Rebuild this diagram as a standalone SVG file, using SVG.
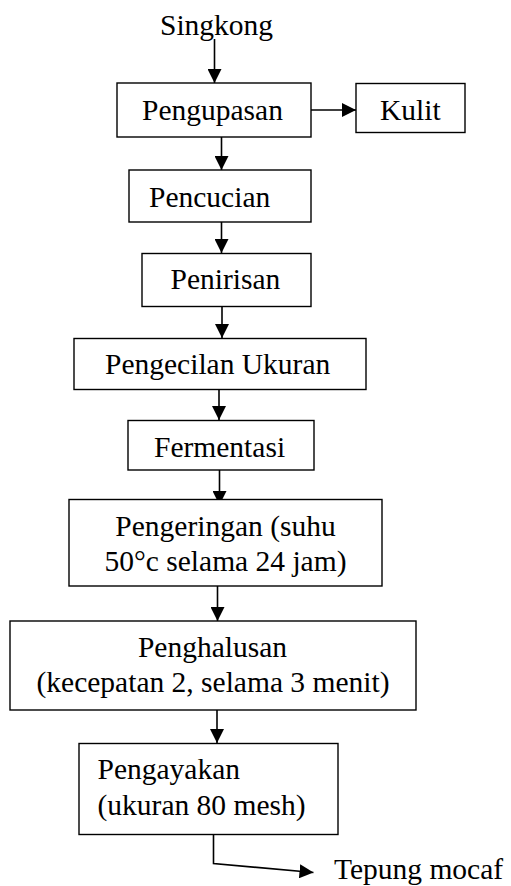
<svg xmlns="http://www.w3.org/2000/svg" width="511" height="886" viewBox="0 0 511 886">
<style>
.box{fill:#fff;stroke:#000;stroke-width:1.4}
.t{font-family:"Liberation Serif","Times New Roman",serif;font-size:29.5px;fill:#000}
.c{fill:none;stroke:#000;stroke-width:1.6}
</style>
<defs>
<marker id="ah" markerUnits="userSpaceOnUse" markerWidth="14" markerHeight="14" viewBox="0 0 14 14" refX="14" refY="7" orient="auto">
<path d="M0,0 L14,7 L0,14 Z" fill="#000"/>
</marker>
</defs>
<rect width="511" height="886" fill="#fff"/>
<g id="connectors">
<line class="c" x1="214.5" y1="39" x2="214.5" y2="83" marker-end="url(#ah)"/>
<line class="c" x1="311" y1="110" x2="356" y2="110" marker-end="url(#ah)"/>
<line class="c" x1="221.5" y1="137" x2="221.5" y2="170" marker-end="url(#ah)"/>
<line class="c" x1="221.5" y1="222" x2="221.5" y2="253" marker-end="url(#ah)"/>
<line class="c" x1="222" y1="307" x2="222" y2="338" marker-end="url(#ah)"/>
<line class="c" x1="219" y1="389" x2="219" y2="420" marker-end="url(#ah)"/>
<line class="c" x1="219.5" y1="470" x2="219.5" y2="505" marker-end="url(#ah)"/>
<line class="c" x1="217.5" y1="586" x2="217.5" y2="621" marker-end="url(#ah)"/>
<line class="c" x1="217" y1="710" x2="217" y2="743" marker-end="url(#ah)"/>
<polyline class="c" points="213.5,835 213.5,863.5 313.5,872.5" marker-end="url(#ah)"/>
</g>
<g id="singkong"><text class="t" x="160" y="35">Singkong</text></g>
<g id="pengupasan"><rect class="box" x="117" y="83" width="194" height="54"/><text class="t" x="142" y="119.5">Pengupasan</text></g>
<g id="kulit"><rect class="box" x="356" y="83.5" width="109" height="49"/><text class="t" x="380" y="119.5">Kulit</text></g>
<g id="pencucian"><rect class="box" x="129" y="170" width="182" height="52"/><text class="t" x="149" y="206.5">Pencucian</text></g>
<g id="penirisan"><rect class="box" x="142" y="253.5" width="169" height="53"/><text class="t" x="170.5" y="289">Penirisan</text></g>
<g id="pengecilan"><rect class="box" x="74" y="338.5" width="292" height="51"/><text class="t" x="105" y="374">Pengecilan Ukuran</text></g>
<g id="fermentasi"><rect class="box" x="128" y="420.5" width="186" height="49.5"/><text class="t" x="154" y="456.5">Fermentasi</text></g>
<g id="pengeringan"><rect class="box" x="69" y="499.5" width="313" height="86.5"/><text class="t" x="225.5" y="535.5" text-anchor="middle">Pengeringan (suhu</text><text class="t" x="225.5" y="571" text-anchor="middle">50°c selama 24 jam)</text></g>
<g id="penghalusan"><rect class="box" x="10" y="621" width="406" height="89"/><text class="t" x="212.5" y="656.5" text-anchor="middle">Penghalusan</text><text class="t" x="213" y="691.5" text-anchor="middle">(kecepatan 2, selama 3 menit)</text></g>
<g id="pengayakan"><rect class="box" x="79" y="743.5" width="259" height="91"/><text class="t" x="97.5" y="779">Pengayakan</text><text class="t" x="97.5" y="815">(ukuran 80 mesh)</text></g>
<g id="tepung"><text class="t" x="334" y="879">Tepung mocaf</text></g>
</svg>
